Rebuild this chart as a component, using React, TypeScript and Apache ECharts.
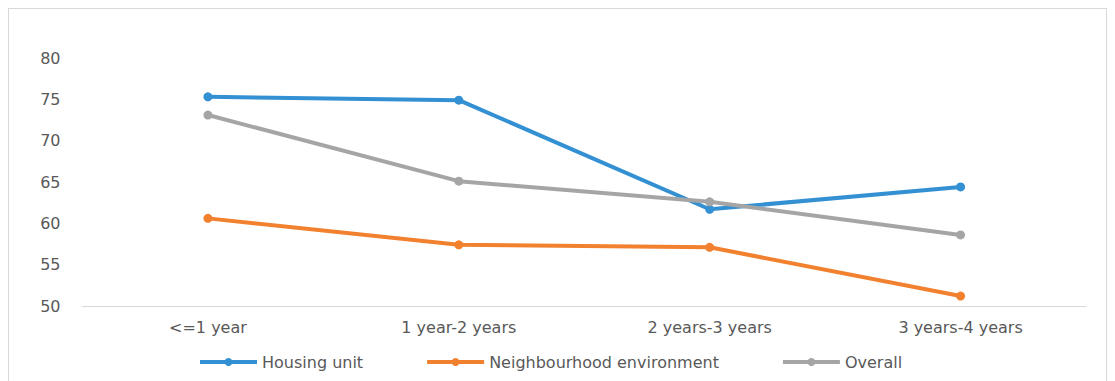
import React, { useEffect, useRef } from "react";
import * as echarts from "echarts";

const categories = ["<=1 year", "1 year-2 years", "2 years-3 years", "3 years-4 years"];
const housingUnit = [75.3, 74.9, 61.7, 64.4];
const neighbourhood = [60.6, 57.4, 57.1, 51.2];
const overall = [73.1, 65.1, 62.6, 58.6];
const yTicks = { min: 50, max: 80, interval: 5 };

const FONT = "'DejaVu Sans', 'Open Sans', sans-serif";
const TEXT = "#595959";

export default function App() {
  const ref = useRef<HTMLDivElement>(null);
  useEffect(() => {
    if (!ref.current) return;
    const chart = echarts.init(ref.current, undefined, { renderer: "svg" });
    const mk = (name: string, data: number[], color: string) => ({
      name,
      type: "line",
      data,
      symbol: "circle",
      symbolSize: 9,
      lineStyle: { width: 4, color },
      itemStyle: { color },
      z: 2,
    });
    chart.setOption({
      animation: false,
      textStyle: { fontFamily: FONT },
      grid: { left: 73.5, right: 20, top: 49, bottom: 83, containLabel: false },
      legend: {
        top: 340,
        left: 184,
        itemWidth: 57,
        itemHeight: 10,
        itemGap: 62,
        lineStyle: { width: 4 },
        textStyle: { color: TEXT, fontSize: 16, fontFamily: FONT },
        data: ["Housing unit", "Neighbourhood environment", "Overall"],
      },
      xAxis: {
        type: "category",
        data: categories,
        boundaryGap: true,
        axisLine: { lineStyle: { color: "#d9d9d9", width: 1 } },
        axisTick: { show: false },
        axisLabel: { color: TEXT, fontSize: 16, margin: 13, fontFamily: FONT },
      },
      yAxis: {
        type: "value",
        min: yTicks.min,
        max: yTicks.max,
        interval: yTicks.interval,
        axisLine: { show: false },
        axisTick: { show: false },
        splitLine: { show: false },
        axisLabel: { color: TEXT, fontSize: 16, margin: 22, fontFamily: FONT },
      },
      series: [
        mk("Housing unit", housingUnit, "#3390D2"),
        mk("Neighbourhood environment", neighbourhood, "#F2812F"),
        mk("Overall", overall, "#A5A5A5"),
      ],
    });
    return () => chart.dispose();
  }, []);
  return (
    <div
      style={{
        width: 1097,
        height: 380,
        border: "1px solid #d9d9d9",
        boxSizing: "content-box",
      }}
    >
      <div ref={ref} style={{ width: 1097, height: 380 }} />
    </div>
  );
}
